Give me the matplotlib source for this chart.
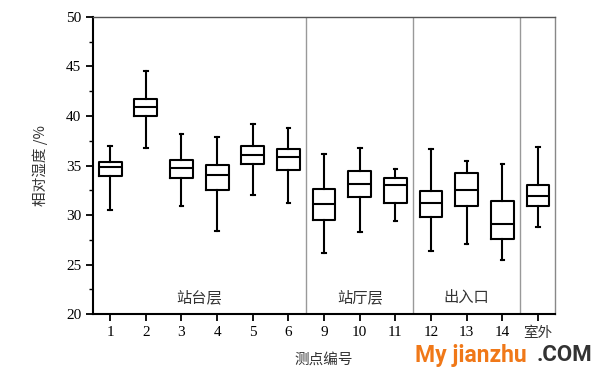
import matplotlib
matplotlib.use("Agg")
import matplotlib.pyplot as plt
from matplotlib.ticker import MultipleLocator

plt.rcParams['font.family'] = ['Liberation Serif', 'Noto Sans CJK SC']

labels = ['1', '2', '3', '4', '5', '6', '9', '10', '11', '12', '13', '14', '室外']
whislo = [30.5, 36.8, 30.9, 28.35, 32.0, 31.2, 26.2, 28.25, 29.4, 26.4, 27.1, 25.5, 28.8]
q1     = [33.9, 40.0, 33.7, 32.5, 35.15, 34.55, 29.5, 31.8, 31.2, 29.75, 30.9, 27.55, 30.9]
med    = [34.8, 40.9, 34.7, 34.0, 36.1, 35.86, 31.15, 33.1, 33.0, 31.25, 32.55, 29.1, 31.9]
q3     = [35.4, 41.7, 35.6, 35.1, 37.0, 36.7, 32.65, 34.4, 33.7, 32.45, 34.2, 31.4, 33.0]
whishi = [37.0, 44.5, 38.15, 37.9, 39.2, 38.75, 36.2, 36.8, 34.6, 36.7, 35.5, 35.2, 36.9]

groups = ['站台层', '站厅层', '出入口']
group_pos = [3.5, 8.0, 11.0]
separators = [6.5, 9.5, 12.5]

fig = plt.figure(figsize=(6.08, 3.77), dpi=100)
ax = fig.add_axes([0.153, 0.167, 0.760, 0.788])

stats = []
for i in range(len(labels)):
    stats.append(dict(whislo=whislo[i], q1=q1[i], med=med[i], q3=q3[i],
                      whishi=whishi[i], fliers=[], label=labels[i]))
pos = list(range(1, len(labels) + 1))
lw = 1.5
ax.bxp(stats, positions=pos, widths=0.64, showfliers=False, capwidths=0.1,
       boxprops=dict(color='black', linewidth=lw),
       medianprops=dict(color='black', linewidth=lw),
       whiskerprops=dict(color='black', linewidth=lw),
       capprops=dict(color='black', linewidth=lw))

for s in separators:
    ax.axvline(s, color='#999999', linewidth=1.0)

for g, p in zip(groups, group_pos):
    ax.text(p, 21.7, g, ha='center', va='center', fontsize=11, color='#333333',
            family=['Noto Sans CJK SC'])

ax.set_xlim(0.52, 13.48)
ax.set_ylim(20, 50)
ax.set_xticks(pos)
ax.set_xticklabels(labels)
ax.yaxis.set_major_locator(MultipleLocator(5))
ax.yaxis.set_minor_locator(MultipleLocator(2.5))
ax.tick_params(axis='both', which='major', direction='out', length=5, width=1.3,
               labelsize=11, colors='black')
ax.tick_params(axis='y', which='minor', direction='out', length=3, width=1.0)
for lab in ax.get_xticklabels():
    if lab.get_text() == '室外':
        lab.set_family(['Noto Sans CJK SC'])
        lab.set_fontsize(10.5)
        lab.set_color('#333333')

ax.spines['left'].set_linewidth(1.5)
ax.spines['bottom'].set_linewidth(1.5)
ax.spines['top'].set_color('#555555')
ax.spines['top'].set_linewidth(1.0)
ax.spines['right'].set_color('#888888')
ax.spines['right'].set_linewidth(1.0)

ax.set_ylabel('相对湿度 /%', fontsize=10.5, family=['Noto Sans CJK SC'], color='#333333', labelpad=13)
ax.set_xlabel('测点编号', fontsize=10.5, family=['Noto Sans CJK SC'], color='#333333', labelpad=9)

fig.text(0.683, 0.058, 'My jianzhu', fontsize=16.5, fontweight='bold', color='#f07818',
         family='Roboto', ha='left', va='center')
fig.text(0.882, 0.058, '.COM', fontsize=16, fontweight='bold', color='#333333',
         family='Roboto', ha='left', va='center')

fig.savefig('out.png', dpi=100)
